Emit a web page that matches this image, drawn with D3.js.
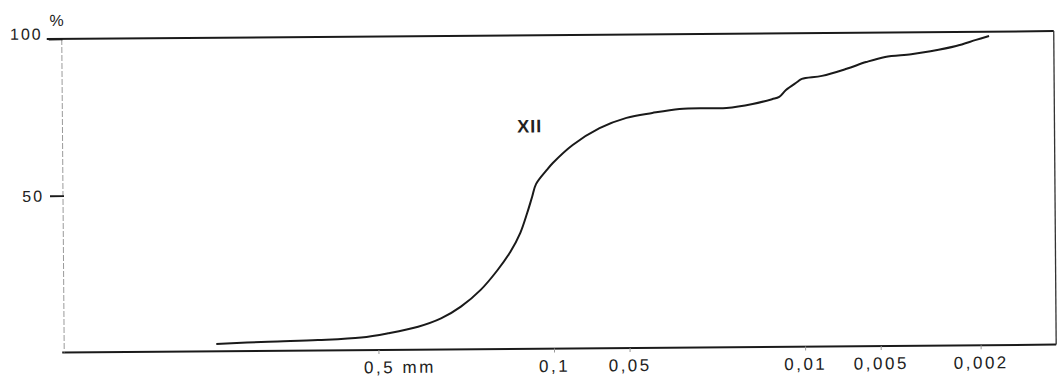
<!DOCTYPE html>
<html>
<head>
<meta charset="utf-8">
<script src="https://cdn.jsdelivr.net/npm/d3@7"></script>
<style>
  html, body { margin: 0; padding: 0; background: #fff; }
  svg text { font-family: "Liberation Sans", Arial, sans-serif; fill: #222; }
</style>
</head>
<body>
<svg id="chart" width="1059" height="385"></svg>
<script>
// grain size curve XII, diameter in mm against cumulative percent
const diameters = [2.21, 1.37, 0.87, 0.585, 0.457, 0.347, 0.281, 0.234, 0.195, 0.1667,
                   0.148, 0.135, 0.1266, 0.1209, 0.1165, 0.1054, 0.0997, 0.083, 0.0648, 0.0506,
                   0.0399, 0.0311, 0.0243, 0.0202, 0.0159, 0.0133, 0.01245, 0.0117, 0.01055, 0.0101,
                   0.0084, 0.0067, 0.0056, 0.0047, 0.0037, 0.0031, 0.00245, 0.00204, 0.00181];
const percents = [2.3, 2.9, 3.3, 4.0, 5.3, 7.3, 9.9, 13.6, 18.9, 25.2,
                  31.0, 37.0, 43.3, 48.4, 52.5, 57.0, 59.2, 64.9, 70.2, 73.4,
                  74.9, 76.1, 76.3, 76.3, 77.5, 79.0, 79.7, 81.9, 84.4, 85.4,
                  86.3, 88.5, 90.6, 92.2, 93.0, 93.9, 95.5, 97.4, 98.6];
const xTicks = [0.5, 0.1, 0.05, 0.01, 0.005, 0.002];
const xTickLabels = ["0,5 mm", "0,1", "0,05", "0,01", "0,005", "0,002"];
const yTicks = [50, 100];
const curveLabel = { text: "XII", d: 0.123, pct: 69 };

const data = diameters.map((d, i) => ({ d: d, p: percents[i] }));

const svg = d3.select("#chart");
// the scanned sheet is slightly tilted
const g = svg.append("g").attr("transform", "rotate(-0.45, 560, 195)");

const x = d3.scaleLog().domain([9, 0.001]).range([62, 1055]);
const y = d3.scaleLinear().domain([0, 100]).range([348.5, 35]);

// frame
g.append("line")
    .attr("x1", x.range()[0] - 14).attr("x2", x.range()[1])
    .attr("y1", y(100)).attr("y2", y(100))
    .attr("stroke", "#1a1a1a").attr("stroke-width", 2);
g.append("line")
    .attr("x1", x.range()[0] - 1).attr("x2", x.range()[1])
    .attr("y1", y(0)).attr("y2", y(0))
    .attr("stroke", "#1a1a1a").attr("stroke-width", 2);
g.append("line")
    .attr("x1", x.range()[0] + 1).attr("x2", x.range()[0] + 1)
    .attr("y1", y(100)).attr("y2", y(0))
    .attr("stroke", "#9a9a9a").attr("stroke-width", 1)
    .attr("stroke-dasharray", "6,2");
g.append("line")
    .attr("x1", x.range()[1]).attr("x2", x.range()[1])
    .attr("y1", y(100)).attr("y2", y(0))
    .attr("stroke", "#333").attr("stroke-width", 1.3);

// y axis
const yAxis = g.append("g")
    .attr("transform", `translate(${x.range()[0] + 2},0)`)
    .call(d3.axisLeft(y).tickValues(yTicks).tickSize(14).tickPadding(6).tickFormat(d3.format("d")));
yAxis.select(".domain").remove();
yAxis.selectAll(".tick line").attr("stroke", "#1a1a1a").attr("stroke-width", 1.8);
yAxis.selectAll(".tick text")
    .attr("font-size", 16)
    .attr("letter-spacing", 2)
    .attr("dy", d => d === 100 ? "0" : "0.34em");

g.append("text")
    .attr("x", x.range()[0] - 4)
    .attr("y", y(100) - 13)
    .attr("text-anchor", "middle")
    .attr("font-size", 16)
    .text("%");

// x axis
const xAxis = g.append("g")
    .attr("transform", `translate(0,${y(0)})`)
    .call(d3.axisBottom(x).tickValues(xTicks).tickSize(4).tickPadding(7)
        .tickFormat((d, i) => xTickLabels[i]));
xAxis.select(".domain").remove();
xAxis.selectAll(".tick line").attr("stroke", "#999").attr("stroke-width", 1);
xAxis.selectAll(".tick text")
    .attr("font-size", 17)
    .attr("letter-spacing", 2.5)
    .attr("dy", "0.72em")
    .attr("text-anchor", (d, i) => i === 0 ? "start" : "middle")
    .attr("dx", (d, i) => i === 0 ? -15 : 0);

// curve
const line = d3.line()
    .x(d => x(d.d))
    .y(d => y(d.p))
    .curve(d3.curveCatmullRom.alpha(0.5));

g.append("path")
    .datum(data)
    .attr("d", line)
    .attr("fill", "none")
    .attr("stroke", "#1a1a1a")
    .attr("stroke-width", 2);

g.append("text")
    .attr("x", x(curveLabel.d))
    .attr("y", y(curveLabel.pct))
    .attr("text-anchor", "middle")
    .attr("font-size", 18)
    .attr("font-weight", "bold")
    .attr("letter-spacing", 1)
    .text(curveLabel.text);
</script>
</body>
</html>
